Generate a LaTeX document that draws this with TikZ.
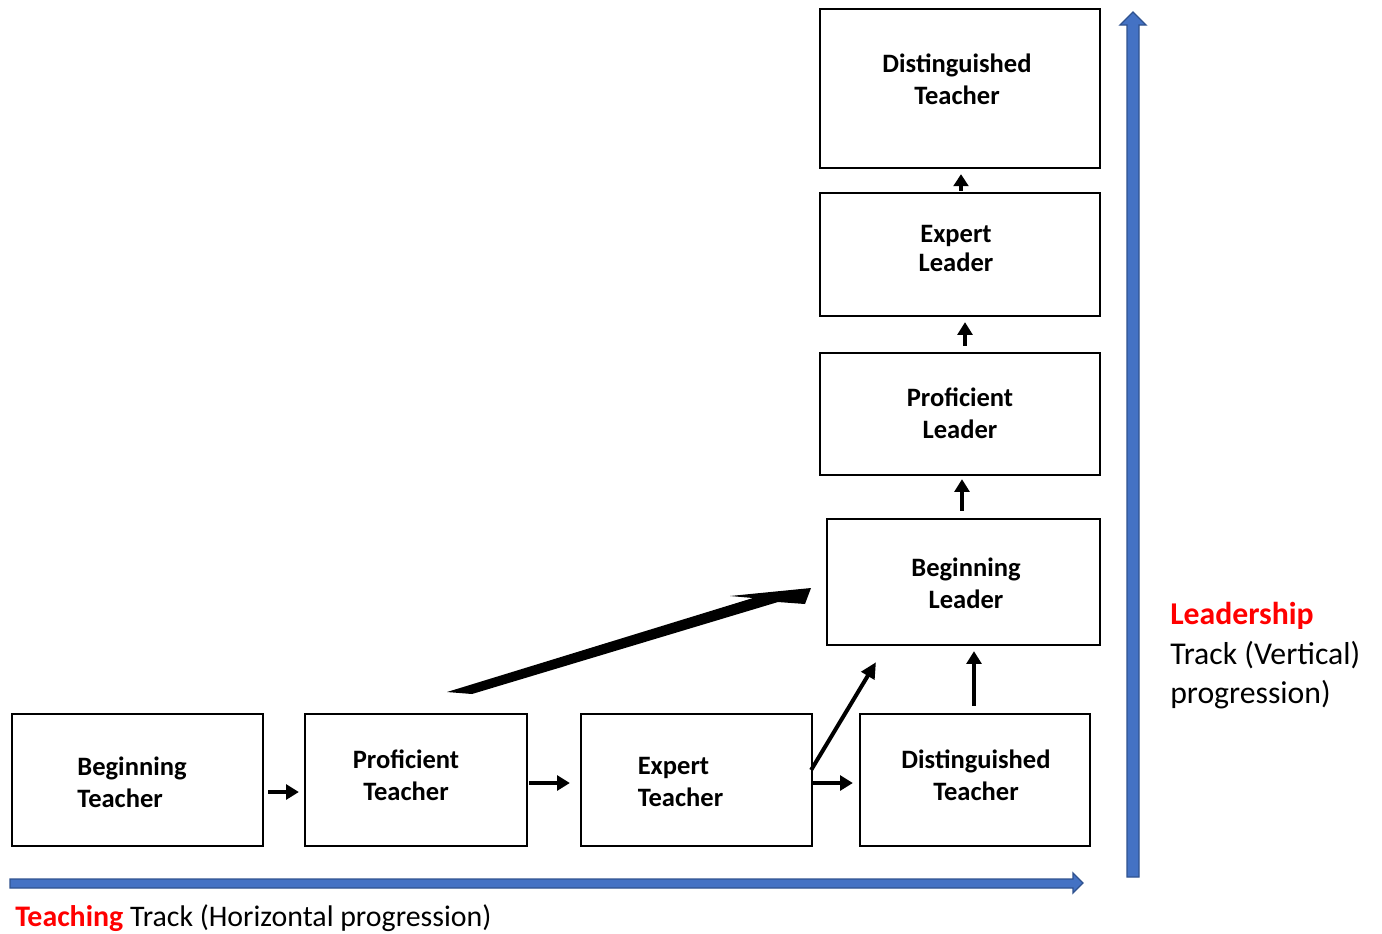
\documentclass[tikz,border=0pt]{standalone}
\usepackage{fontspec}
\setmainfont{Carlito}
\usetikzlibrary{arrows.meta,fit}
\definecolor{bfill}{HTML}{4472C4}
\definecolor{bline}{HTML}{2F528F}
\definecolor{tred}{HTML}{FF0000}
\tikzset{
  box/.style={draw=black, line width=1.7pt, inner sep=0pt, fill=white},
  txt/.style={font=\fontsize{19.9}{24}\selectfont\bfseries, align=center, inner sep=0pt},
  txtl/.style={txt, align=left},
  blk/.style={line width=3.2pt, -{Triangle[length=9.5pt,width=11pt]}},
  blkthin/.style={line width=3pt, -{Triangle[length=12pt,width=11pt]}},
  bluearrow/.style={fill=bfill, draw=bline, line width=1pt, line join=miter},
}
\begin{document}
\begin{tikzpicture}[x=0.75pt,y=-0.75pt]
\useasboundingbox (0,0) rectangle (1382,933);

% boxes
\node[box, fit={(12,714) (263,846)}] (bt) {};
\node[box, fit={(305,714) (527,846)}] (pt) {};
\node[box, fit={(581,714) (812,846)}] (et) {};
\node[box, fit={(860,714) (1090,846)}] (dt) {};
\node[box, fit={(827,519) (1100,645)}] (bl) {};
\node[box, fit={(820,353) (1100,475)}] (pl) {};
\node[box, fit={(820,193) (1100,316)}] (el) {};
\node[box, fit={(820,9) (1100,168)}] (dtop) {};

% texts
\node[txtl] at (132,782) {Beginning\\Teacher};
\node[txt] at (406,775.5) {Proficient\\Teacher};
\node[txtl] at (680.5,782) {Expert\\Teacher};
\node[txt] at (976,775.5) {Distinguished\\Teacher};
\node[txt] at (966,583.5) {Beginning\\Leader};
\node[txt] at (960,413) {Proficient\\Leader};
\node[txt, font=\fontsize{19.9}{21.75}\selectfont\bfseries] at (956,248.5) {Expert\\Leader};
\node[txt] at (957,79) {Distinguished\\Teacher};

% black connectors
\draw[blk] ([shift={(4,12)}]bt.east) -- ([shift={(-5,12)}]pt.west);
\draw[blk] ([shift={(1,3)}]pt.east) -- ([shift={(-10,3)}]et.west);
\draw[blk] ([shift={(0,3)}]et.east) -- ([shift={(-6,3)}]dt.west);
\draw[blkthin] ([shift={(-2,-10)}]et.east) -- ([shift={(-87.5,16)}]bl.south);
\draw[blk] ([shift={(-1,-7)}]dt.north) -- ([shift={(10.5,5)}]bl.south);
\draw[blk] ([shift={(-1.5,-7)}]bl.north) -- ([shift={(2,3)}]pl.south);
\draw[blk] ([shift={(5,-6)}]pl.north) -- ([shift={(5,5)}]el.south);
\draw[line width=3pt, -{Triangle[length=9pt,width=11pt]}] ([shift={(1,-1)}]el.north) -- ([shift={(1,5)}]dtop.south);

% tapered arrow from Proficient Teacher to Beginning Leader
\fill[black] (447,692) -- (753,598) -- (730,596) -- (811,588) -- (805,604) -- (778,602) -- (472,694) -- cycle;

% blue track arrows
\draw[bluearrow] (10,879) -- (1073,879) -- (1073,873) -- (1083,883) -- (1073,893) -- (1073,888) -- (10,888) -- cycle;
\draw[bluearrow] (1127,877) -- (1127,25) -- (1120,25) -- (1133,12) -- (1146,25) -- (1139,25) -- (1139,877) -- cycle;

% track labels
\node[anchor=base west, inner sep=0pt, font=\fontsize{22.4}{26}\selectfont] (tl) at (15,926) {\textcolor{tred}{\bfseries Teaching} Track (Horizontal progression)};
\node[anchor=west, inner sep=0pt, align=left, font=\fontsize{23.8}{29.6}\selectfont] (ll) at (1170,656) {\textcolor{tred}{\bfseries Leadership}\\Track (Vertical)\\progression)};
\end{tikzpicture}
\end{document}
